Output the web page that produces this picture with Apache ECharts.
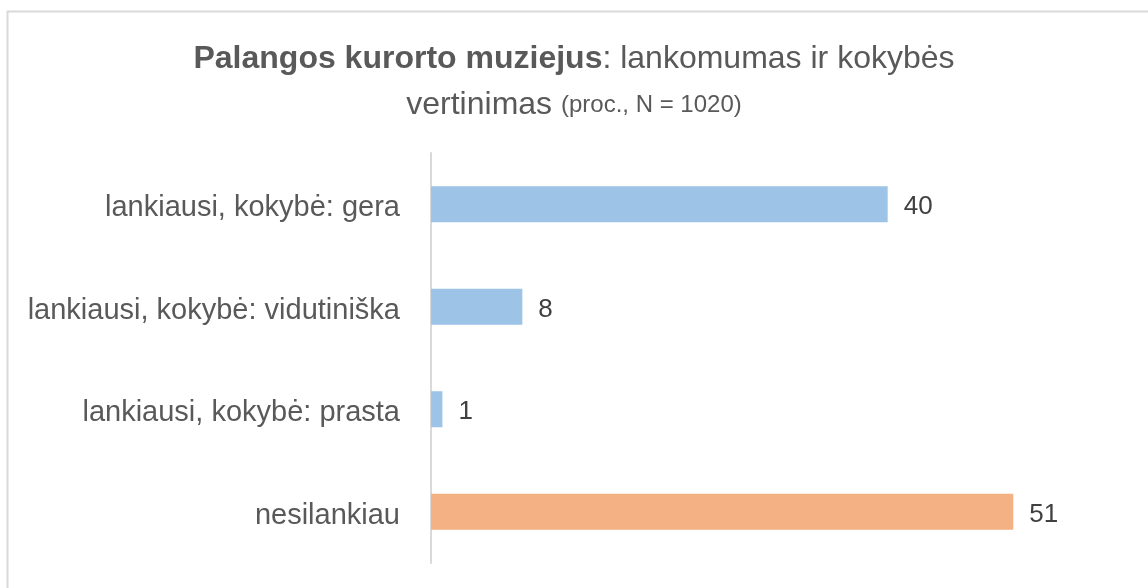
<!DOCTYPE html>
<html><head><meta charset="utf-8">
<script src="https://cdn.jsdelivr.net/npm/echarts@6/dist/echarts.min.js"></script>
<style>html,body{margin:0;padding:0;background:#fff}#c{width:1148px;height:588px}</style>
</head><body><div id="c"></div>
<script>
const categories = ['lankiausi, kokybė: gera', 'lankiausi, kokybė: vidutiniška', 'lankiausi, kokybė: prasta', 'nesilankiau'];
const values = [40, 8, 1, 51];
const barColors = ['#9DC3E6', '#9DC3E6', '#9DC3E6', '#F4B183'];

const chart = echarts.init(document.getElementById('c'));
const FONT = 'Liberation Sans';
chart.setOption({
  animation: false,
  graphic: [{type: 'rect', left: 5, top: 9, shape: {width: 1160, height: 600}, style: {fill: 'none', stroke: '#D9D9D9', lineWidth: 2}, silent: true}],
  title: {
    left: 'center', top: 31,
    text: '{b|Palangos kurorto muziejus}{n|: lankomumas ir kokybės}\n{n|vertinimas }{s|(proc., N = 1020)}',
    textStyle: {
      fontWeight: 'normal',
      lineHeight: 46,
      rich: {
        b: {fontFamily: FONT, fontSize: 32, fontWeight: 'bold', color: '#595959', lineHeight: 46},
        n: {fontFamily: FONT, fontSize: 32, fontWeight: 'normal', color: '#595959', lineHeight: 46},
        s: {fontFamily: FONT, fontSize: 24, fontWeight: 'normal', color: '#595959', lineHeight: 46}
      }
    }
  },
  grid: {left: 431, right: 32, top: 153, bottom: 25, containLabel: false},
  xAxis: {type: 'value', min: 0, max: 60, show: false},
  yAxis: {
    type: 'category', data: categories, inverse: true,
    axisLine: {show: true, lineStyle: {color: '#D9D9D9', width: 2}},
    axisTick: {show: false},
    axisLabel: {
      margin: 31,
      formatter: v => '{a|' + v + '}',
      rich: {a: {color: '#595959', fontFamily: FONT, fontSize: 29, padding: [8, 0, 0, 0]}}
    }
  },
  series: [{
    type: 'bar', barWidth: 36,
    data: values.map((v, i) => ({value: v, itemStyle: {color: barColors[i]}})),
    label: {
      show: true, position: 'right', distance: 16,
      formatter: p => '{a|' + p.value + '}',
      rich: {a: {color: '#404040', fontFamily: FONT, fontSize: 26, padding: [6, 0, 0, 0]}}
    }
  }]
});
</script></body></html>
